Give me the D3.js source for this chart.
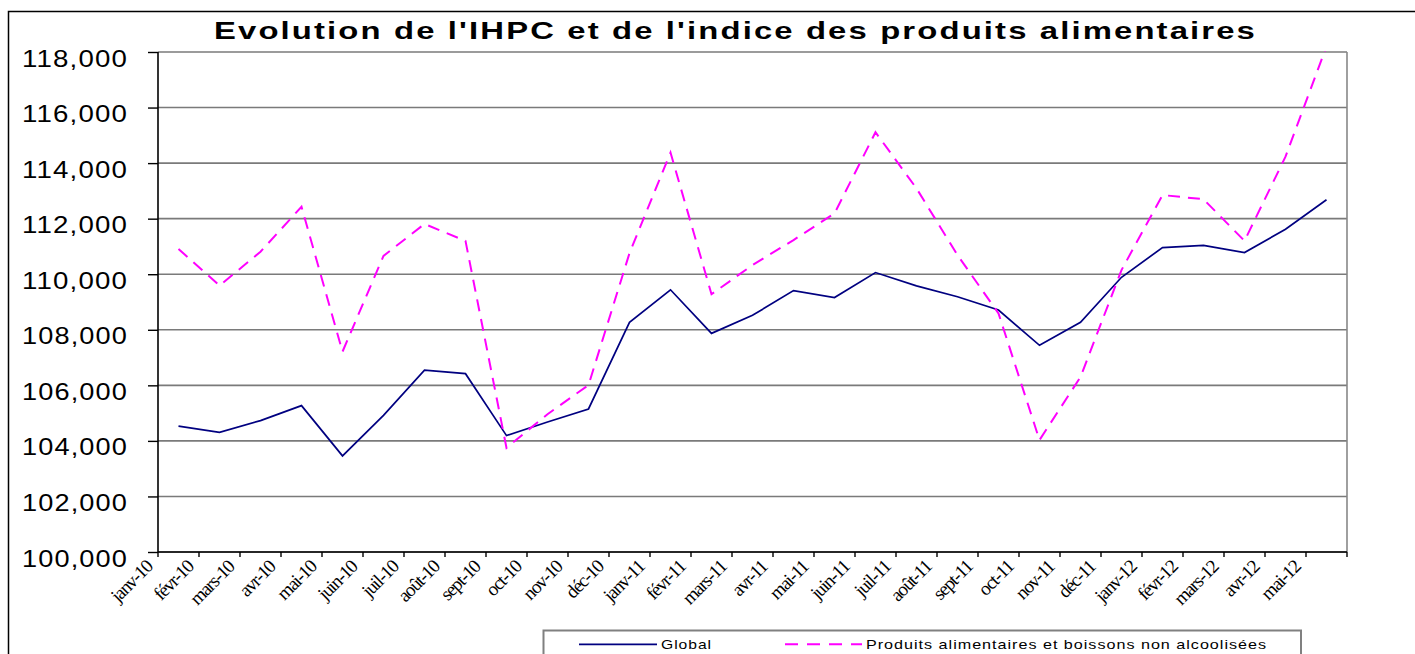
<!DOCTYPE html>
<html>
<head>
<meta charset="utf-8">
<script src="https://cdn.jsdelivr.net/npm/d3@7"></script>
<style>
  body { margin: 0; background: #fff; }
  svg { display: block; }
</style>
</head>
<body>
<svg width="1415" height="654"></svg>
<script>
const months = ["janv-10","févr-10","mars-10","avr-10","mai-10","juin-10","juil-10","août-10","sept-10","oct-10","nov-10","déc-10",
  "janv-11","févr-11","mars-11","avr-11","mai-11","juin-11","juil-11","août-11","sept-11","oct-11","nov-11","déc-11",
  "janv-12","févr-12","mars-12","avr-12","mai-12"]

const globalIndex = [104.53, 104.31, 104.73, 105.27, 103.46, 104.92, 106.55, 106.42, 104.19, 104.68, 105.15, 108.27,
  109.44, 107.87, 108.52, 109.41, 109.16, 110.06, 109.58, 109.19, 108.71, 107.44, 108.27, 109.89,
  110.96, 111.04, 110.78, 111.62, 112.68]

const foodIndex = [110.91, 109.59, 110.81, 112.43, 107.21, 110.66, 111.81, 111.20, 103.75, 104.96, 106.01, 110.76,
  114.38, 109.28, 110.33, 111.23, 112.19, 115.11, 113.09, 110.69, 108.59, 104.03, 106.30, 110.15,
  112.85, 112.70, 111.20, 114.23, 118.20]

const yTicks = [100, 102, 104, 106, 108, 110, 112, 114, 116, 118]

const seriesNames = ["Global", "Produits alimentaires et boissons non alcoolisées"]

const sans = "'Liberation Sans', Arial, sans-serif"
const serif = "'Liberation Serif', 'Times New Roman', serif"

const svg = d3.select("svg")

const plotLeft = 158, plotRight = 1347, plotTop = 52, plotBottom = 552

const x = d3.scaleBand().domain(months).range([plotLeft, plotRight])
const y = d3.scaleLinear().domain([100, 118]).range([plotBottom, plotTop])

// outer chart frame (runs past the right and bottom edges)
svg.append("rect")
  .attr("x", 8.5).attr("y", 11.5)
  .attr("width", 1500).attr("height", 700)
  .attr("fill", "none").attr("stroke", "#000").attr("stroke-width", 1.5)

// title
svg.append("text")
  .attr("x", 214).attr("y", 39)
  .attr("textLength", 1043).attr("lengthAdjust", "spacingAndGlyphs")
  .style("font-family", sans).style("font-weight", "bold").style("font-size", "23px")
  .style("letter-spacing", "1.5px")
  .text("Evolution de l'IHPC et de l'indice des produits alimentaires")

// gridlines
svg.append("g")
  .selectAll("line")
  .data(yTicks)
  .join("line")
  .attr("x1", plotLeft).attr("x2", plotRight)
  .attr("y1", d => y(d)).attr("y2", d => y(d))
  .attr("stroke", "#7a7a7a").attr("stroke-width", 1.6)

// right border of plot
svg.append("line")
  .attr("x1", plotRight).attr("x2", plotRight).attr("y1", plotTop).attr("y2", plotBottom)
  .attr("stroke", "#888").attr("stroke-width", 1.6)

const fmt = d => d3.format(",.3f")(d).replace(".", ",")

// y axis
const yAxis = svg.append("g")
  .attr("transform", `translate(${plotLeft},0)`)
  .call(d3.axisLeft(y).tickValues(yTicks).tickFormat(fmt).tickSize(10).tickPadding(20))
yAxis.select(".domain").remove()
yAxis.append("line")
  .attr("x1", 0).attr("x2", 0).attr("y1", plotTop).attr("y2", plotBottom)
  .attr("stroke", "#000").attr("stroke-width", 1.6)
yAxis.selectAll(".tick line").attr("stroke", "#000").attr("stroke-width", 1.4)
yAxis.selectAll(".tick text")
  .attr("dy", 14)
  .attr("fill", "#000")
  .attr("textLength", 106).attr("lengthAdjust", "spacingAndGlyphs")
  .style("font-family", sans).style("font-size", "24px").style("letter-spacing", "1px")

// x axis
const xAxis = svg.append("g")
  .attr("transform", `translate(0,${plotBottom})`)
  .call(d3.axisBottom(x).tickSize(0).tickPadding(0))
xAxis.select(".domain").remove()
xAxis.append("line")
  .attr("x1", plotLeft).attr("x2", plotRight)
  .attr("stroke", "#000").attr("stroke-width", 1.6)
xAxis.selectAll(".tick text")
  .attr("y", 0).attr("dy", 0)
  .attr("text-anchor", "end")
  .attr("transform", "translate(-25,16) rotate(-45)")
  .attr("fill", "#000")
  .style("font-family", serif).style("font-size", "19px").style("letter-spacing", "-1.2px")
xAxis.selectAll(".bound")
  .data(months.map(m => x(m)).concat([plotRight]))
  .join("line")
  .attr("class", "bound")
  .attr("x1", d => d).attr("x2", d => d)
  .attr("y1", 0).attr("y2", 5)
  .attr("stroke", "#000").attr("stroke-width", 1.4)

// lines
svg.append("clipPath").attr("id", "plot-clip")
  .append("rect")
  .attr("x", plotLeft).attr("y", plotTop - 1)
  .attr("width", plotRight - plotLeft).attr("height", plotBottom - plotTop + 1)

const line = d3.line()
  .x((d, i) => x(months[i]) + x.bandwidth() / 2)
  .y(d => y(d))

const plot = svg.append("g").attr("clip-path", "url(#plot-clip)")

plot.append("path")
  .datum(globalIndex)
  .attr("d", line)
  .attr("fill", "none").attr("stroke", "#000080").attr("stroke-width", 1.7)

plot.append("path")
  .datum(foodIndex)
  .attr("d", line)
  .attr("fill", "none").attr("stroke", "#ff00ff").attr("stroke-width", 2)
  .attr("stroke-dasharray", "12,8")

// legend
const legend = svg.append("g")
legend.append("rect")
  .attr("x", 543.5).attr("y", 630.5)
  .attr("width", 757.5).attr("height", 60)
  .attr("fill", "#fff").attr("stroke", "#808080").attr("stroke-width", 2)

legend.append("line")
  .attr("x1", 579).attr("x2", 657).attr("y1", 644.3).attr("y2", 644.3)
  .attr("stroke", "#000080").attr("stroke-width", 1.7)
legend.append("text")
  .attr("x", 661).attr("y", 648.5)
  .attr("textLength", 51).attr("lengthAdjust", "spacingAndGlyphs")
  .style("font-family", sans).style("font-size", "13px").style("letter-spacing", "0.8px")
  .text(seriesNames[0])

legend.append("line")
  .attr("x1", 785).attr("x2", 862).attr("y1", 644.3).attr("y2", 644.3)
  .attr("stroke", "#ff00ff").attr("stroke-width", 2)
  .attr("stroke-dasharray", "13,9")
legend.append("text")
  .attr("x", 866).attr("y", 648.5)
  .attr("textLength", 401).attr("lengthAdjust", "spacingAndGlyphs")
  .style("font-family", sans).style("font-size", "13px").style("letter-spacing", "0.8px")
  .text(seriesNames[1])
</script>
</body>
</html>
